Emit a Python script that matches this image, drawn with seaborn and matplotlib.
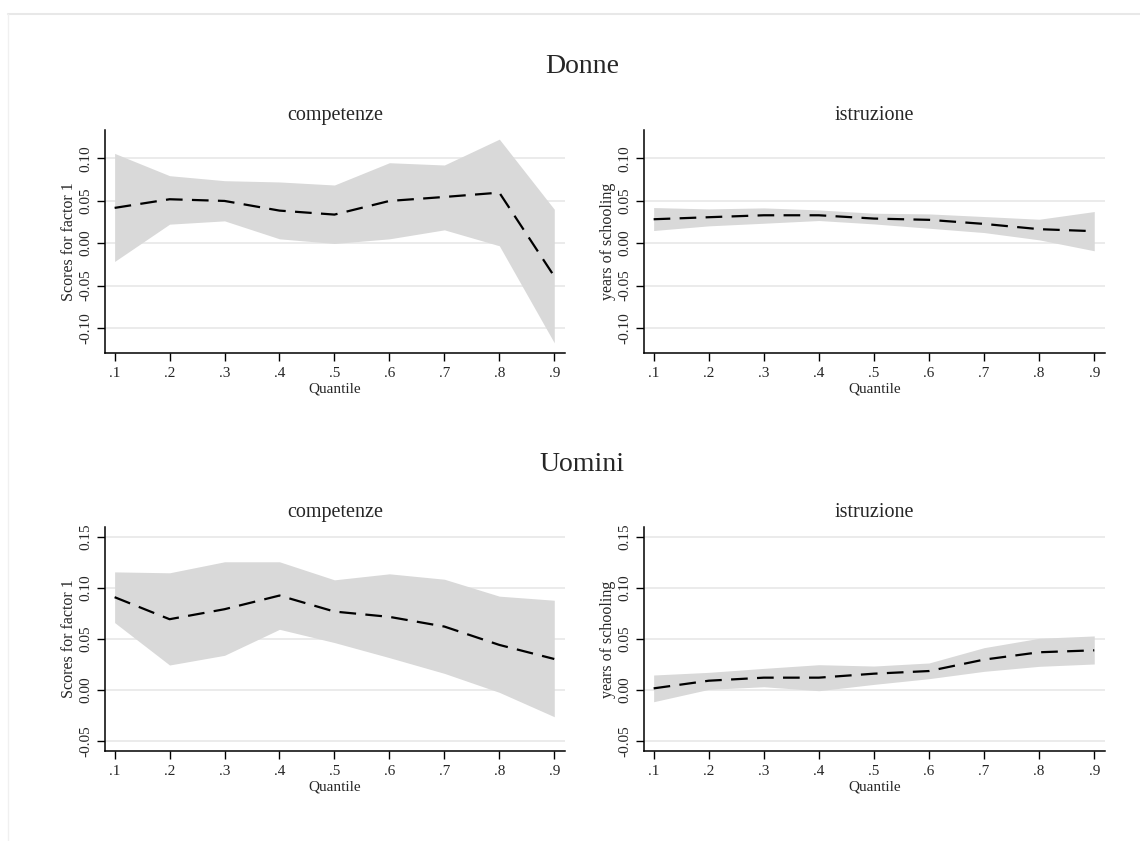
import numpy as np
import pandas as pd
import matplotlib
matplotlib.use("Agg")
import matplotlib.pyplot as plt
from matplotlib.lines import Line2D
import seaborn as sns

# ---------------- data ----------------
quantiles = [0.1, 0.2, 0.3, 0.4, 0.5, 0.6, 0.7, 0.8, 0.9]
x_tick_labels = [".1", ".2", ".3", ".4", ".5", ".6", ".7", ".8", ".9"]

donne_comp_est = [0.0416, 0.0518, 0.0498, 0.0384, 0.0337, 0.0498, 0.0545, 0.0596, -0.0392]
donne_comp_lo = [-0.0216, 0.0224, 0.0263, 0.0051, -0.0004, 0.0051, 0.0157, -0.0031, -0.1176]
donne_comp_hi = [0.1059, 0.0796, 0.0737, 0.0722, 0.0686, 0.0949, 0.0922, 0.1227, 0.0400]

donne_istr_est = [0.0282, 0.0306, 0.0329, 0.0329, 0.0290, 0.0275, 0.0227, 0.0165, 0.0141]
donne_istr_lo = [0.0149, 0.0204, 0.0235, 0.0267, 0.0227, 0.0176, 0.0125, 0.0039, -0.0090]
donne_istr_hi = [0.0420, 0.0404, 0.0416, 0.0392, 0.0353, 0.0345, 0.0314, 0.0282, 0.0373]

uomini_comp_est = [0.0907, 0.0691, 0.0789, 0.0923, 0.0766, 0.0714, 0.0619, 0.0439, 0.0301]
uomini_comp_lo = [0.0658, 0.0242, 0.0337, 0.0592, 0.0462, 0.0314, 0.0160, -0.0026, -0.0265]
uomini_comp_hi = [0.1155, 0.1146, 0.1254, 0.1254, 0.1077, 0.1136, 0.1083, 0.0917, 0.0877]

uomini_istr_est = [0.0013, 0.0088, 0.0118, 0.0118, 0.0157, 0.0183, 0.0295, 0.0367, 0.0386]
uomini_istr_lo = [-0.0118, 0.0003, 0.0029, -0.0010, 0.0052, 0.0108, 0.0180, 0.0229, 0.0252]
uomini_istr_hi = [0.0144, 0.0170, 0.0209, 0.0245, 0.0232, 0.0262, 0.0412, 0.0504, 0.0527]

group_titles = ["Donne", "Uomini"]
panel_titles = ["competenze", "istruzione"]
y_labels = ["Scores for factor 1", "years of schooling"]
x_label = "Quantile"

top_yticks = [-0.10, -0.05, 0.00, 0.05, 0.10]
top_ytick_labels = ["-0.10", "-0.05", "0.00", "0.05", "0.10"]
bot_yticks = [-0.05, 0.00, 0.05, 0.10, 0.15]
bot_ytick_labels = ["-0.05", "0.00", "0.05", "0.10", "0.15"]

# ---------------- style ----------------
sns.set_style("white")
plt.rcParams["font.family"] = ["Liberation Serif", "DejaVu Serif"]

W, H = 1140, 841
fig = plt.figure(figsize=(W / 100, H / 100), dpi=100)
fig.patch.set_facecolor("white")

# faint outer frame (top and left)
fig.add_artist(Line2D([8 / W, 1.0], [1 - 13.5 / H, 1 - 13.5 / H], color="#e8e8e8", lw=1.5))
fig.add_artist(Line2D([8 / W, 8 / W], [0.0, 1 - 13.5 / H], color="#f0f0f0", lw=1.0))


def px_axes(left, right, top, bottom):
    return fig.add_axes([left / W, 1 - bottom / H, (right - left) / W, (bottom - top) / H])


panels = [
    (px_axes(105, 565, 130, 353), donne_comp_est, donne_comp_lo, donne_comp_hi, 0, 0),
    (px_axes(644, 1105, 130, 353), donne_istr_est, donne_istr_lo, donne_istr_hi, 1, 0),
    (px_axes(105, 565, 527, 751), uomini_comp_est, uomini_comp_lo, uomini_comp_hi, 0, 1),
    (px_axes(644, 1105, 527, 751), uomini_istr_est, uomini_istr_lo, uomini_istr_hi, 1, 1),
]

for ax, est, lo, hi, col, row in panels:
    df = pd.DataFrame({"q": quantiles, "est": est, "lo": lo, "hi": hi})
    ax.fill_between(df["q"], df["lo"], df["hi"], color="#d9d9d9", lw=0, zorder=2)
    sns.lineplot(data=df, x="q", y="est", ax=ax, color="black", lw=1.6,
                 dashes=False, zorder=3)
    ax.lines[-1].set_dashes((7.5, 4.2))

    if row == 0:
        yt, ytl, ylim = top_yticks, top_ytick_labels, (-0.1296, 0.1335)
    else:
        yt, ytl, ylim = bot_yticks, bot_ytick_labels, (-0.0601, 0.1595)
    ax.set_ylim(*ylim)
    ax.set_xlim(0.0825, 0.9195)
    for v in yt:
        ax.axhline(v, color="#ebebeb", lw=1.4, zorder=1)
    ax.set_yticks(yt)
    ax.set_yticklabels(ytl, rotation=90, va="center", fontsize=11)
    ax.set_xticks(quantiles)
    ax.set_xticklabels(x_tick_labels, fontsize=11)
    ax.tick_params(axis="both", direction="out", length=6, width=1, color="black",
                   left=True, bottom=True, pad=3)
    ax.tick_params(axis="x", pad=4)
    ax.set_xlabel(x_label, fontsize=11, labelpad=2)
    ax.set_ylabel(y_labels[col], fontsize=11.5, labelpad=2)
    ax.set_title(panel_titles[col], fontsize=14.5, pad=7)
    for s in ["top", "right"]:
        ax.spines[s].set_visible(False)
    for s in ["left", "bottom"]:
        ax.spines[s].set_color("black")
        ax.spines[s].set_linewidth(1.1)
    ax.set_facecolor("white")

fig.text(582 / W, 1 - 73 / H, group_titles[0], ha="center", va="baseline", fontsize=20)
fig.text(582 / W, 1 - 471.5 / H, group_titles[1], ha="center", va="baseline", fontsize=20)

fig.savefig("out.png", dpi=100, facecolor="white")
